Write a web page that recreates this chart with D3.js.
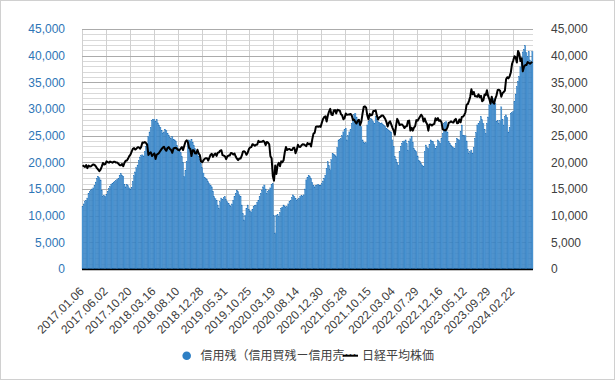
<!DOCTYPE html>
<html>
<head>
<meta charset="utf-8">
<script src="https://cdn.jsdelivr.net/npm/d3@7"></script>
<style>
  body { margin: 0; background: #fff; }
  svg text { font-family: "Liberation Sans", Arial, sans-serif; }
</style>
</head>
<body>
<svg id="chart"></svg>
<script>
// 信用残（信用買残ー信用売残） weekly, 2017.01.06 - 2024.06
var margin = [
  11700,12200,12600,12900,13300,14200,14500,14800,15000,15200,15600,16300,17000,17400,17100,16700,14800,13600,13800,13600,
  14000,14600,15100,15500,15900,16100,16300,16400,16600,16800,17000,17600,17900,17600,17400,15800,15400,15900,15600,15200,
  15000,15300,16400,17500,18200,19000,19500,20300,21000,21300,21400,21200,22000,23000,23600,24800,25700,26500,27900,28000,
  28100,27600,28000,27400,27000,26600,26000,25500,25700,26200,26000,25400,25100,24600,24500,24800,24300,24200,24000,23200,
  22600,22000,21800,21100,20000,17300,18500,20100,23600,24200,24000,24300,23800,23200,22600,22000,21600,21100,20600,19800,
  19000,18000,17200,17000,16800,16400,16000,15600,15400,14600,13600,13200,12900,12000,11400,12600,13300,13000,13400,13600,
  13000,12600,12300,12000,11700,12200,12900,13600,14200,14800,14500,13900,13600,12000,10400,9200,10000,11400,12000,11200,
  10900,10700,11200,11700,11900,12000,12500,12900,13600,14200,14800,15400,15750,15000,14200,14600,14800,15200,15900,16000,
  10000,6700,10100,10200,9800,10600,11400,11600,12000,11800,11500,11700,12200,12600,12900,13400,13900,13600,13200,12900,
  13000,13300,13600,13800,13600,13900,15000,16700,17200,17600,17300,17000,16200,15600,15400,15600,15750,15900,15700,15750,
  16000,16500,17000,17600,18800,20100,19400,18600,20500,21700,21500,21400,21100,22800,24200,24300,24500,25000,25700,26200,
  26400,24200,25000,25700,26100,27300,28200,29000,29200,28500,27900,27900,27200,26700,24200,23800,23600,23700,27000,27600,
  27900,28200,28000,27600,27300,28600,28000,27600,27500,27300,27400,27100,27000,26700,26400,26100,26000,25800,25700,24200,
  23000,21100,20600,20000,19500,22000,23000,23600,23900,24000,24200,23500,22300,24000,24400,24800,23800,22600,22300,22000,
  21200,20400,20200,19800,19500,19200,22000,23250,22800,22600,23400,24200,24000,23900,23300,22600,23000,24200,23900,23600,
  24500,25400,27300,27500,27600,25700,23900,23600,23250,23000,22800,22600,23600,24500,24300,24200,25800,27000,25100,25000,
  25000,24000,22400,21700,22000,22300,21700,22800,24500,25600,27000,27300,27600,28600,28000,27300,26200,25400,27300,28500,
  30750,31200,31700,32000,31400,31100,27600,27900,27300,27800,30400,28000,27000,28600,28900,28400,25700,26500,29200,29300,
  29500,31400,32800,34200,35200,36100,37900,39500,40700,41200,41900,40600,39800,40800,39200,38500,40800
];

// 日経平均株価 weekly close
var nikkei = [
  19454,19287,19137,19467,18918,19378,19235,19283,19469,19604,19521,19262,18909,18664,18335,18620,19197,19883,19590,19686,
  20177,20013,19943,20132,20033,19929,20118,20099,19959,19952,19729,19470,19452,19691,19274,19909,20296,20356,20690,21155,
  21457,22008,22539,22681,22397,22550,22819,22811,22553,22902,23714,23653,23808,23631,23274,21383,21720,21893,21182,21469,
  21676,20617,21454,21568,21779,22162,22468,22758,22930,22451,22171,22694,22852,22516,22305,21788,22597,22698,22712,22525,
  22298,22270,22601,22865,22307,23094,23870,24120,23784,22694,22532,21184,22243,22250,21680,21647,22351,21679,21375,20166,
  20015,20359,20666,20774,20788,20333,20900,21426,21603,21025,21451,21627,21206,21807,21870,22200,22259,21345,21250,21117,
  20601,21117,21259,21276,21746,21686,21467,21658,21087,20685,20419,20711,20704,21200,21988,22079,21879,21410,21799,22493,
  22800,22851,23392,23303,23113,23294,23354,24023,23816,23837,23850,24041,23827,23205,23827,23688,23386,21142,20749,17431,
  16552,19389,17820,19498,19897,19262,20179,20037,20388,21877,22863,22305,22478,22512,22306,22290,22696,22751,21710,22329,
  23289,22920,22882,23205,23406,23360,23204,23029,23619,23410,23516,22977,24325,25385,25527,26644,26751,26652,26763,26656,
  27444,28139,28519,28631,27663,28779,29520,30018,28966,28864,29718,29792,29176,29854,29768,29683,29020,28812,28084,28317,
  29149,28942,28949,28964,29066,28783,27940,28003,27548,27284,27820,27977,27013,27641,29128,30382,30500,30249,28771,28049,
  29068,28804,28892,29611,29609,29745,28751,28029,28437,28545,28782,28791,28478,28124,27522,26717,27439,27696,27122,26476,
  25985,25163,26827,28149,27665,26985,27093,27105,26847,26427,26739,26781,27761,27824,25963,26491,25935,26517,26788,27915,
  27801,28175,28546,28930,28641,27650,28214,27567,27153,25937,27116,27090,26890,27105,27199,28263,27899,28283,27777,27901,
  27527,26235,26095,25974,26120,26554,27383,27509,27671,27514,27454,27928,28144,27334,27385,28041,27518,28493,28564,28856,
  29388,30808,30916,31524,32265,33706,32782,33189,32388,32391,32304,32759,32193,32473,31451,31625,32711,32606,33533,32402,
  31857,30994,32315,31259,30991,31950,32568,33585,33625,33431,32307,32970,33169,33464,35577,35963,35751,36158,36897,38487,
  39098,39910,39688,38707,40888,40369,38992,39523,37068,37934,38236,38229,38787,38646,38487,38683,38814
];

var tickLabels = ["2017.01.06","2017.06.02","2017.10.20","2018.03.16","2018.08.10","2018.12.28",
  "2019.05.31","2019.10.25","2020.03.19","2020.08.14","2020.12.30","2021.05.28","2021.10.15",
  "2022.03.04","2022.07.29","2022.12.16","2023.05.12","2023.09.29","2024.02.22"];
var tickEvery = 20;
var yTicks = [0,5000,10000,15000,20000,25000,30000,35000,40000,45000];
var legendNames = ["信用残（信用買残ー信用売…", "日経平均株価"];

(function() {
var WIDTH = 615, HEIGHT = 380;
var pL = 82, pR = 533, pT = 29, pB = 269;

var svg = d3.select("#chart").attr("width", WIDTH).attr("height", HEIGHT);

svg.append("rect").attr("x", 0.5).attr("y", 0.5)
  .attr("width", WIDTH - 1).attr("height", HEIGHT - 1)
  .attr("fill", "#fff").attr("stroke", "#d0d0d0");

var idx = d3.range(margin.length);
var x = d3.scaleBand().domain(idx).range([pL, pR]).padding(0);
var y = d3.scaleLinear().domain([0, 45000]).range([pB, pT]);
var y2 = d3.scaleLinear().domain([0, 45000]).range([pB, pT]);

// grid: minor every 1000, major every 5000
var g = svg.append("g");
g.selectAll("line.minor")
  .data(d3.range(1000, 45001, 1000).filter(function(d){ return d % 5000 != 0; }))
  .enter().append("line")
  .attr("x1", pL).attr("x2", pR)
  .attr("y1", function(d){ return Math.round(y(d)) + 0.5; })
  .attr("y2", function(d){ return Math.round(y(d)) + 0.5; })
  .attr("stroke", "#d9d9d9");
g.selectAll("line.vert")
  .data(d3.range(0, margin.length + 1, tickEvery))
  .enter().append("line")
  .attr("x1", function(d){ return Math.round(pL + d * x.step()) + 0.5; })
  .attr("x2", function(d){ return Math.round(pL + d * x.step()) + 0.5; })
  .attr("y1", pT).attr("y2", pB)
  .attr("stroke", "#d0d0d0");
g.selectAll("line.major")
  .data(yTicks.slice(1))
  .enter().append("line")
  .attr("x1", pL).attr("x2", pR)
  .attr("y1", function(d){ return Math.round(y(d)) + 0.5; })
  .attr("y2", function(d){ return Math.round(y(d)) + 0.5; })
  .attr("stroke", "#ababab");

// bars
svg.append("g").selectAll("rect")
  .data(margin)
  .enter().append("rect")
  .attr("x", function(d, i){ return x(i); })
  .attr("width", x.bandwidth())
  .attr("y", function(d){ return y(d); })
  .attr("height", function(d){ return pB - y(d); })
  .attr("fill", "#5199d5")
  .attr("stroke", "#1f6db4")
  .attr("stroke-width", 0.3);

// line
var line = d3.line()
  .x(function(d, i){ return x(i) + x.bandwidth() / 2; })
  .y(function(d){ return y2(d); });
svg.append("path").datum(nikkei)
  .attr("d", line)
  .attr("fill", "none")
  .attr("stroke", "#000")
  .attr("stroke-width", 2)
  .attr("stroke-linejoin", "round");

// bottom axis line
svg.append("line").attr("x1", pL).attr("x2", pR)
  .attr("y1", pB + 0.5).attr("y2", pB + 0.5)
  .attr("stroke", "#000").attr("stroke-width", 1.5);

// left axis
var ax = svg.append("g").attr("transform", "translate(" + (pL - 14) + ",0)")
  .call(d3.axisLeft(y).tickValues(yTicks).tickFormat(d3.format(",")).tickSize(0));
ax.select(".domain").remove();
ax.selectAll("text").attr("fill", "#2e75b6").style("font-size", "12px")
  .style("font-family", "'Liberation Sans', Arial, sans-serif");

// right axis
var ax2 = svg.append("g").attr("transform", "translate(" + (pR + 15) + ",0)")
  .call(d3.axisRight(y2).tickValues(yTicks).tickFormat(d3.format(",")).tickSize(0));
ax2.select(".domain").remove();
ax2.selectAll("text").attr("fill", "#404040").style("font-size", "12px")
  .style("font-family", "'Liberation Sans', Arial, sans-serif");

// x labels
svg.append("g").selectAll("text")
  .data(tickLabels)
  .enter().append("text")
  .attr("transform", function(d, k){
    var cx = x(k * tickEvery) + x.bandwidth() / 2;
    return "translate(" + (cx + 2) + "," + 292 + ") rotate(-45)";
  })
  .attr("text-anchor", "end")
  .attr("fill", "#404040")
  .style("font-size", "12px")
  .text(function(d){ return d; });

// legend
var lg = svg.append("g");
lg.append("circle").attr("cx", 186.7).attr("cy", 355.7).attr("r", 4.3).attr("fill", "#2e7fc4");
lg.append("text").attr("x", 200.5).attr("y", 360)
  .attr("fill", "#404040")
  .style("font-size", "12px").style("font-family", "'Noto Sans CJK JP', sans-serif")
  .text(legendNames[0]);
lg.append("line").attr("x1", 343).attr("x2", 358).attr("y1", 355.7).attr("y2", 355.7)
  .attr("stroke", "#000").attr("stroke-width", 2);
lg.append("text").attr("x", 362).attr("y", 360)
  .attr("fill", "#404040")
  .style("font-size", "12px").style("font-family", "'Noto Sans CJK JP', sans-serif")
  .text(legendNames[1]);
})();
</script>
</body>
</html>
